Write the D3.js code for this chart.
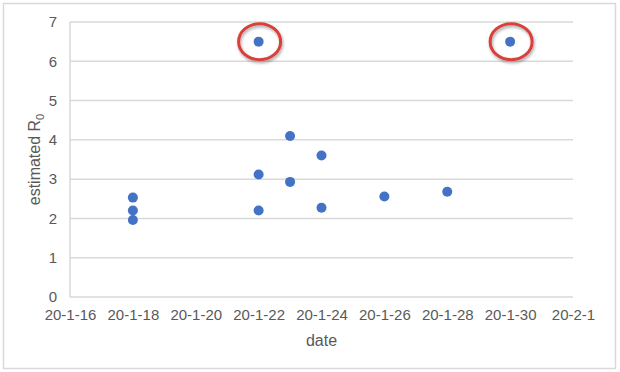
<!DOCTYPE html>
<html>
<head>
<meta charset="utf-8">
<script src="https://d3js.org/d3.v7.min.js"></script>
<style>
	body{margin:0;background:#fff;}
	text{font-family:"Liberation Sans", Arial, sans-serif;fill:#595959;}
	.grid line{stroke:#d9d9d9;stroke-width:1.5;}
</style>
</head>
<body>
<script>
	var width = 620, height = 372;
	var margin = {left:70, right:47, top:22, bottom:75};

	// estimated R0 by publication date
	var dates  = ["2020-01-18","2020-01-18","2020-01-18","2020-01-22","2020-01-22","2020-01-22",
				  "2020-01-23","2020-01-23","2020-01-24","2020-01-24","2020-01-26","2020-01-28","2020-01-30"];
	var values = [2.53, 2.2, 1.96, 6.5, 3.12, 2.2, 4.1, 2.93, 3.6, 2.27, 2.56, 2.68, 6.5];
	var circled = ["2020-01-22|6.5", "2020-01-30|6.5"];
	var yTicks = [0,1,2,3,4,5,6,7];
	var xTicks = ["2020-01-16","2020-01-18","2020-01-20","2020-01-22","2020-01-24",
				  "2020-01-26","2020-01-28","2020-01-30","2020-02-01"];

	var parse = d3.timeParse("%Y-%m-%d");
	var data = dates.map(function(d,i){ return {date:parse(d), value:values[i], key:d+"|"+values[i]}; });

	var svg = d3.select("body").append("svg")
				.attr("width", width).attr("height", height);

	svg.append("rect").attr("x",3.5).attr("y",3.5).attr("width",612).attr("height",365)
		.attr("fill","#fff").attr("stroke","#d9d9d9").attr("stroke-width",1.5);

	var x = d3.scaleTime()
			.domain([parse(xTicks[0]), parse(xTicks[xTicks.length-1])])
			.range([margin.left, width-margin.right]);
	var y = d3.scaleLinear().domain([0,7]).range([height-margin.bottom, margin.top]);

	// gridlines
	svg.append("g").attr("class","grid").selectAll("line")
		.data(yTicks).enter().append("line")
		.attr("x1", margin.left).attr("x2", width-margin.right)
		.attr("y1", function(d){return y(d);}).attr("y2", function(d){return y(d);});

	svg.append("line").attr("x1", margin.left).attr("x2", margin.left)
		.attr("y1", y(0)).attr("y2", y(7)).attr("stroke","#d9d9d9").attr("stroke-width",1.5);

	var fmt = d3.timeFormat("%y-%-m-%-d");
	var xAxis = svg.append("g").attr("transform","translate(0,"+y(0)+")")
		.call(d3.axisBottom(x).tickValues(xTicks.map(parse)).tickFormat(fmt).tickSize(0).tickPadding(12));
	xAxis.select(".domain").remove();
	xAxis.selectAll("text").attr("font-size",15).style("fill","#595959")
		.attr("font-family","Liberation Sans, Arial, sans-serif");

	var yAxis = svg.append("g").attr("transform","translate("+margin.left+",0)")
		.call(d3.axisLeft(y).tickValues(yTicks).tickFormat(d3.format("d")).tickSize(0).tickPadding(13));
	yAxis.select(".domain").remove();
	yAxis.selectAll("text").attr("font-size",15).style("fill","#595959")
		.attr("font-family","Liberation Sans, Arial, sans-serif");

	// axis titles
	svg.append("text").attr("x", (margin.left+width-margin.right)/2).attr("y", 346)
		.attr("text-anchor","middle").attr("font-size",16).text("date");

	var yt = svg.append("text").attr("transform","translate(40,"+((y(0)+y(7))/2)+") rotate(-90)")
		.attr("text-anchor","middle").attr("font-size",16);
	yt.append("tspan").text("estimated R");
	yt.append("tspan").attr("font-size",11).attr("dy",4).text("0");

	// points
	svg.append("g").selectAll("circle").data(data).enter().append("circle")
		.attr("cx", function(d){return x(d.date);})
		.attr("cy", function(d){return y(d.value);})
		.attr("r", 5).attr("fill","#4472c4");

	// red highlight rings
	var defs = svg.append("defs");
	var f = defs.append("filter").attr("id","sh").attr("x","-30%").attr("y","-30%").attr("width","160%").attr("height","160%");
	f.append("feDropShadow").attr("dx",1).attr("dy",2).attr("stdDeviation",1.5).attr("flood-color","#000").attr("flood-opacity",0.35);

	svg.append("g").selectAll("ellipse")
		.data(data.filter(function(d){return circled.indexOf(d.key) >= 0;}))
		.enter().append("ellipse")
		.attr("cx", function(d){return x(d.date)+1;})
		.attr("cy", function(d){return y(d.value);})
		.attr("rx", 21).attr("ry", 18)
		.attr("fill","none").attr("stroke","#d9403a").attr("stroke-width",3)
		.attr("filter","url(#sh)");
</script>
</body>
</html>
